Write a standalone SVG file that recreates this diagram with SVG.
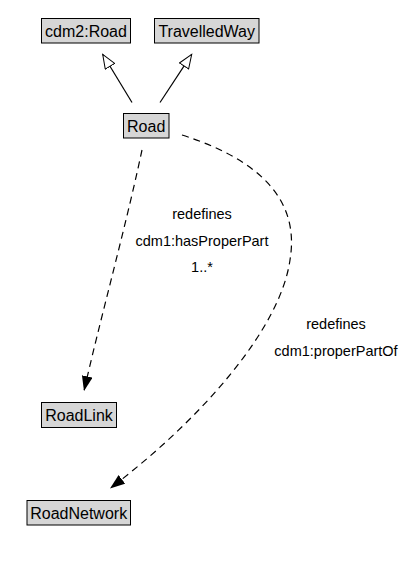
<svg xmlns="http://www.w3.org/2000/svg" width="408" height="563" viewBox="0 0 408 563">
<style>
.box{fill:#d6d6d6;stroke:#000;stroke-width:1}
.t{font-family:"Liberation Sans",Arial,sans-serif;font-size:16px;fill:#000;text-anchor:middle}
.lbl{font-family:"Liberation Sans",Arial,sans-serif;font-size:14.5px;fill:#000;text-anchor:middle}
.gen{fill:none;stroke:#000;stroke-width:1.2}
.dep{fill:none;stroke:#000;stroke-width:1.2;stroke-dasharray:7,5}
</style>
<defs>
<marker id="hollow" markerUnits="userSpaceOnUse" markerWidth="16" markerHeight="14" refX="14.5" refY="6" orient="auto">
<path d="M0.5,0.5 L14.5,6 L0.5,11.5 z" fill="#fff" stroke="#000" stroke-width="1"/>
</marker>
<marker id="filled" markerUnits="userSpaceOnUse" markerWidth="16" markerHeight="12" refX="15" refY="5.5" orient="auto">
<path d="M0,0 L15,5.5 L0,11 z" fill="#000"/>
</marker>
</defs>
<rect width="408" height="563" fill="#fff"/>
<g id="connectors">
<path class="gen" d="M132,102.5 L102.7,54.3" marker-end="url(#hollow)"/>
<path class="gen" d="M160,102.5 L191.7,54.3" marker-end="url(#hollow)"/>
<path class="dep" d="M142,150 C125,230 100,320 84,391" marker-end="url(#filled)"/>
<path class="dep" d="M182,135 C260,160 300,200 290,260 C280,330 200,420 110,488.5" marker-end="url(#filled)"/>
<text class="lbl" x="202" y="219">redefines</text>
<text class="lbl" x="202" y="245.7">cdm1:hasProperPart</text>
<text class="lbl" x="202" y="272.3">1..*</text>
<text class="lbl" x="336" y="329">redefines</text>
<text class="lbl" x="336" y="355.7">cdm1:properPartOf</text>
</g>
<g id="cdm2Road">
<rect class="box" x="41.5" y="18.5" width="89" height="24.5"/>
<text class="t" x="86" y="37">cdm2:Road</text>
</g>
<g id="TravelledWay">
<rect class="box" x="154.5" y="18.5" width="104.5" height="24.5"/>
<text class="t" x="206.7" y="37">TravelledWay</text>
</g>
<g id="Road">
<rect class="box" x="123.5" y="113.5" width="45.5" height="24.5"/>
<text class="t" x="146.2" y="132">Road</text>
</g>
<g id="RoadLink">
<rect class="box" x="41.5" y="402.5" width="75" height="25"/>
<text class="t" x="79" y="421">RoadLink</text>
</g>
<g id="RoadNetwork">
<rect class="box" x="27" y="500.5" width="103.5" height="24.5"/>
<text class="t" x="78.7" y="519">RoadNetwork</text>
</g>
</svg>
